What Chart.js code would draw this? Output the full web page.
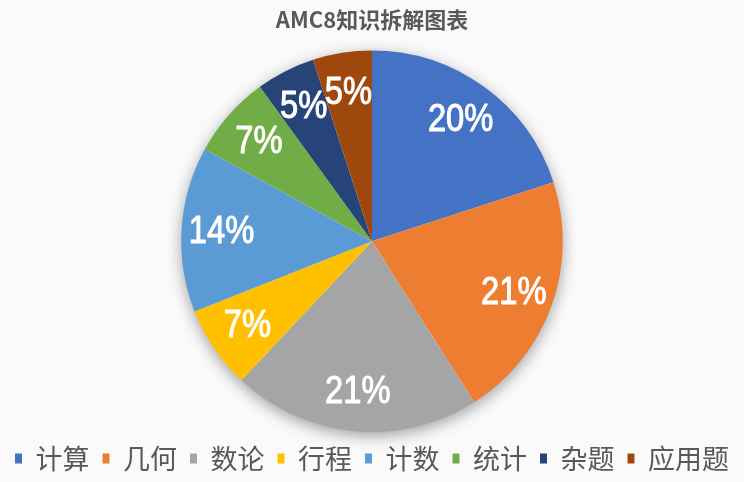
<!DOCTYPE html>
<html>
<head>
<meta charset="utf-8">
<script src="https://cdn.jsdelivr.net/npm/chart.js@4"></script>
<style>
  html, body { margin: 0; padding: 0; background: #fafafa; }
  #wrap { width: 744px; height: 482px; }
</style>
</head>
<body>
<div id="wrap"><canvas id="knowledgePie"></canvas></div>
<script>
const categories = ["计算", "几何", "数论", "行程", "计数", "统计", "杂题", "应用题"];
const shares = [20, 21, 21, 7, 14, 7, 5, 5];
const sliceColors = ["#4472C4", "#ED7D31", "#A5A5A5", "#FFC000", "#5B9BD5", "#70AD47", "#264478", "#9E480E"];

// soft drop shadow under the whole pie
const pieShadow = {
  id: "pieShadow",
  beforeDatasetsDraw(chart) {
    const arc = chart.getDatasetMeta(0).data[0];
    if (!arc) return;
    const { ctx } = chart;
    ctx.save();
    ctx.shadowColor = "rgba(0,0,0,0.4)";
    ctx.shadowBlur = 16;
    ctx.shadowOffsetY = 4;
    ctx.fillStyle = "#ffffff";
    ctx.beginPath();
    ctx.arc(arc.x, arc.y, arc.outerRadius - 1, 0, Math.PI * 2);
    ctx.fill();
    ctx.restore();
  },
};

// percentage labels inside each slice
const sliceLabels = {
  id: "sliceLabels",
  afterDatasetsDraw(chart) {
    const { ctx } = chart;
    const values = chart.data.datasets[0].data;
    chart.getDatasetMeta(0).data.forEach((arc, i) => {
      const mid = (arc.startAngle + arc.endAngle) / 2;
      const r = arc.outerRadius * 0.79;
      const x = arc.x + Math.cos(mid) * r;
      const y = arc.y + Math.sin(mid) * r;
      const txt = values[i] + "%";
      ctx.save();
      ctx.translate(x, y);
      ctx.scale(0.86, 1);
      ctx.fillStyle = "#ffffff";
      ctx.strokeStyle = "#ffffff";
      ctx.lineWidth = 1;
      ctx.lineJoin = "round";
      ctx.font = "38px 'Liberation Sans', Arial, sans-serif";
      ctx.textAlign = "center";
      ctx.textBaseline = "middle";
      ctx.fillText(txt, 0, 1);
      ctx.strokeText(txt, 0, 1);
      ctx.restore();
    });
  },
};

new Chart(document.getElementById("knowledgePie"), {
  type: "pie",
  data: {
    labels: categories,
    datasets: [
      {
        data: shares,
        backgroundColor: sliceColors,
        borderWidth: 0,
      },
    ],
  },
  options: {
    responsive: true,
    maintainAspectRatio: false,
    animation: false,
    layout: { padding: { top: 0, bottom: 0, left: 0, right: 0 } },
    plugins: {
      title: {
        display: true,
        text: "AMC8知识拆解图表",
        color: "#595959",
        font: { family: "'Noto Sans CJK SC', 'Liberation Sans', sans-serif", size: 22, weight: "bold" },
        padding: { top: 6, bottom: 18 },
      },
      legend: {
        display: true,
        position: "bottom",
        labels: {
          color: "#595959",
          boxWidth: 7,
          boxHeight: 10,
          padding: 13,
          font: { family: "'Noto Sans CJK SC', sans-serif", size: 27 },
        },
      },
      tooltip: { enabled: false },
    },
  },
  plugins: [pieShadow, sliceLabels],
});
</script>
</body>
</html>
